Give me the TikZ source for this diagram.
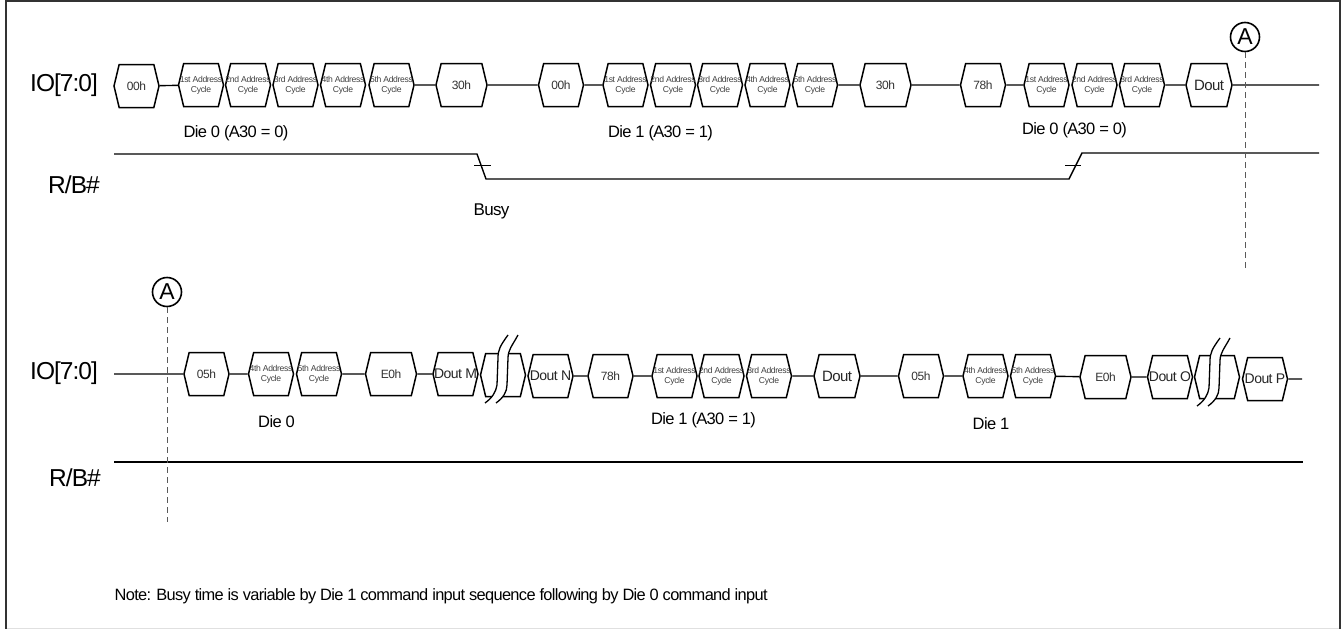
\documentclass[tikz,border=0pt]{standalone}
\usepackage{fontspec}
\setmainfont[LetterSpace=-4]{Liberation Sans}
\usetikzlibrary{shapes.symbols, calc}
\newcommand{\hexline}[1]{\makebox[0pt]{#1}}
\newcommand{\addrcycle}[1]{\makebox[0pt]{\shortstack{#1 Address\\[1pt]Cycle}}}
\begin{document}
\begin{tikzpicture}[x=1pt, y=-1pt, line width=1.3pt, every node/.style={font=\fontsize{16.5}{18}\selectfont},
  hexbox/.style={shape=signal, signal to=west and east, signal pointer angle=153, draw, line width=1.5pt, inner sep=0pt, minimum height=43pt, minimum width=#1},
  hexbox/.default=45pt,
  cmdbox/.style={hexbox, font=\fontsize{12}{14}\selectfont, text=black!80},
  dataBox/.style={hexbox, font=\fontsize{15}{17}\selectfont, text=black!85},
  doutbox/.style={hexbox, font=\fontsize{14}{17}\selectfont, text=black!85},
  addrbox/.style={hexbox, font=\fontsize{8.6}{11}\selectfont, text=black!75},
  siglabel/.style={font=\fontsize{24.5}{26}\selectfont},
  dielabel/.style={font=\fontsize{16.5}{18}\selectfont},
  marker/.style={draw, circle, inner sep=0pt, minimum size=29pt, line width=1.6pt, font=\fontsize{23}{24}\selectfont},
  guide/.style={black!65, line width=1pt, dash pattern=on 6pt off 4pt},
  wire/.style={line width=1.4pt}]
\useasboundingbox (0,0) rectangle (1341,629);
\draw[line width=1pt, black!12] (6,628.5) -- (1340,628.5);
\draw[line width=1.2pt, black!80] (6,629) -- (6,1) -- (1340,1) -- (1340,629);

% first row
\node[siglabel] (ioA) at (64,85) {IO[7:0]};
\node[siglabel] (rbA) at (74,185) {R/B\#};
\node[cmdbox] (c00a) at (136.5,86) {\hexline{00h}};
\node[addrbox] (a1a) at (201,85) {\addrcycle{1st}};
\node[addrbox] (a2a) at (248,85) {\addrcycle{2nd}};
\node[addrbox] (a3a) at (295.5,85) {\addrcycle{3rd}};
\node[addrbox] (a4a) at (343,85) {\addrcycle{4th}};
\node[addrbox] (a5a) at (391.5,85) {\addrcycle{5th}};
\node[cmdbox, hexbox=51pt] (c30a) at (461.5,85) {\hexline{30h}};
\node[cmdbox] (c00b) at (561,85) {\hexline{00h}};
\node[addrbox] (a1b) at (625.5,85) {\addrcycle{1st}};
\node[addrbox] (a2b) at (673,85) {\addrcycle{2nd}};
\node[addrbox] (a3b) at (720,85) {\addrcycle{3rd}};
\node[addrbox] (a4b) at (767.5,85) {\addrcycle{4th}};
\node[addrbox] (a5b) at (815,85) {\addrcycle{5th}};
\node[cmdbox, hexbox=51pt] (c30b) at (885.5,85) {\hexline{30h}};
\node[cmdbox] (c78a) at (983,85) {\hexline{78h}};
\node[addrbox] (a1c) at (1046.5,85) {\addrcycle{1st}};
\node[addrbox] (a2c) at (1094.5,85) {\addrcycle{2nd}};
\node[addrbox] (a3c) at (1142,85) {\addrcycle{3rd}};
\node[dataBox, hexbox=46pt] (douta) at (1209,85) {\hexline{Dout}};
\coordinate (endA) at (1319,85);
\draw[wire] (c00a) -- (a1a);
\draw[wire] (a5a) -- (c30a);
\draw[wire] (c30a) -- (c00b);
\draw[wire] (c00b) -- (a1b);
\draw[wire] (a5b) -- (c30b);
\draw[wire] (c30b) -- (c78a);
\draw[wire] (c78a) -- (a1c);
\draw[wire] (a3c) -- (douta);
\draw[wire] (douta) -- (endA);
\node[dielabel] (dieA) at (236,133) {Die 0 (A30 = 0)};
\node[dielabel] (dieB) at (660.5,133) {Die 1 (A30 = 1)};
\node[dielabel] (dieC) at (1074.5,130) {Die 0 (A30 = 0)};
\node[dielabel, font=\fontsize{17}{18}\selectfont] (busy) at (491.5,211) {Busy};

% ready/busy of first row
\coordinate (rbStartA) at (114,154);
\coordinate (rbEndA) at (1319,153);
\draw[wire] (rbStartA) -- (477,154) -- (486,179) -- (1069,179) -- (1082,153) -- (rbEndA);
\draw[line width=1pt] (474,165) -- (491,165);
\draw[line width=1pt] (1065,165) -- (1081,165);
\node[marker] (markA) at (1245,37) {A};
\coordinate (guideEndA) at (1245,270);
\draw[guide] (markA) -- (guideEndA);

% second row
\node[siglabel] (ioB) at (64,373) {IO[7:0]};
\node[siglabel] (rbB) at (75,478) {R/B\#};
\coordinate (startB) at (114,374);
\node[cmdbox] (c05a) at (206.5,374) {\hexline{05h}};
\node[addrbox] (a4d) at (271,374) {\addrcycle{4th}};
\node[addrbox] (a5d) at (319,374) {\addrcycle{5th}};
\node[cmdbox, hexbox=51pt] (ce0a) at (391,374) {\hexline{E0h}};
\node[doutbox] (doutm) at (455.5,374) {\hexline{Dout M}};
\node[hexbox] (gapA) at (503,375) {};
\node[doutbox] (doutn) at (550.5,376) {\hexline{Dout N}};
\node[cmdbox] (c78b) at (610.5,376) {\hexline{78h}};
\node[addrbox] (a1e) at (674.5,376) {\addrcycle{1st}};
\node[addrbox] (a2e) at (721.5,376) {\addrcycle{2nd}};
\node[addrbox] (a3e) at (769,376) {\addrcycle{3rd}};
\node[dataBox, hexbox=46pt] (doutb) at (837,376) {\hexline{Dout}};
\node[cmdbox] (c05b) at (921,376) {\hexline{05h}};
\node[addrbox] (a4f) at (985.5,376) {\addrcycle{4th}};
\node[addrbox] (a5f) at (1033,376) {\addrcycle{5th}};
\node[cmdbox, hexbox=51pt] (ce0b) at (1105.5,377) {\hexline{E0h}};
\node[doutbox] (douto) at (1170,377) {\hexline{Dout O}};
\node[hexbox] (gapB) at (1217,377) {};
\node[doutbox] (doutp) at (1265,379) {\hexline{Dout P}};
\coordinate (endB) at (1302,379);
\draw[wire] (startB) -- (c05a);
\draw[wire] (c05a) -- (a4d);
\draw[wire] (a5d) -- (ce0a);
\draw[wire] (ce0a) -- (doutm);
\draw[wire] (doutn) -- (c78b);
\draw[wire] (c78b) -- (a1e);
\draw[wire] (a3e) -- (doutb);
\draw[wire] (doutb) -- (c05b);
\draw[wire] (c05b) -- (a4f);
\draw[wire] (a5f) -- (ce0b);
\draw[wire] (ce0b) -- (douto);
\draw[wire] (doutp) -- (endB);
% break marks
\foreach \bx/\by in {0/0, 712/3} {
  \begin{scope}[shift={(\bx,\by)}]
    \fill[white] (508,335) .. controls (500,346) and (498,350) .. (498,358) -- (497,385) .. controls (496,392) and (492,398) .. (485,403) -- (496,403) .. controls (503,398) and (507,392) .. (507,385) -- (508,358) .. controls (508,350) and (512,346) .. (518,335) -- cycle;
    \draw (508,335) .. controls (500,346) and (498,350) .. (498,358) -- (497,385) .. controls (496,392) and (492,398) .. (485,403);
    \draw (518,335) .. controls (512,346) and (508,350) .. (508,358) -- (507,385) .. controls (507,392) and (503,398) .. (496,403);
  \end{scope}
}
\node[dielabel] (dieD) at (276.5,422) {Die 0};
\node[dielabel] (dieE) at (703.5,420) {Die 1 (A30 = 1)};
\node[dielabel] (dieF) at (991,424) {Die 1};
\coordinate (rbStartB) at (114,462);
\coordinate (rbEndB) at (1303,462);
\draw[wire] (rbStartB) -- (rbEndB);
\node[marker] (markB) at (167,292) {A};
\coordinate (guideEndB) at (167,522);
\draw[guide] (markB) -- (guideEndB);

\node[anchor=west, inner sep=0pt, font=\fontsize{16.4}{18}\selectfont] (note) at (114,596) {Note: Busy time is variable by Die 1 command input sequence following by Die 0 command input};
\end{tikzpicture}
\end{document}
